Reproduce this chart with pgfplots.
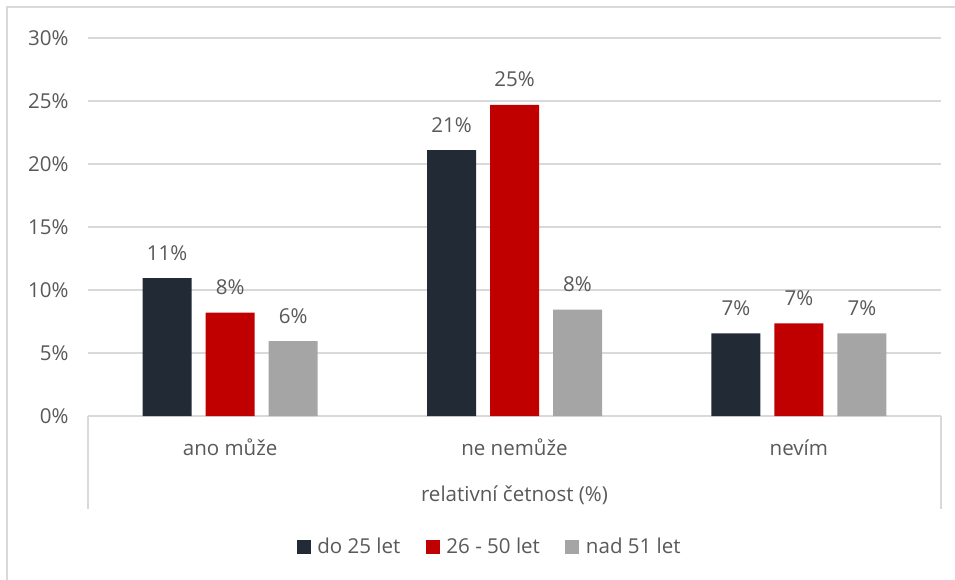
\documentclass[border=0pt]{standalone}
\usepackage{pgfplots}
\pgfplotsset{compat=1.18}
\usepackage{fontspec}
\setmainfont{Open Sans}
\definecolor{txt}{HTML}{595959}
\definecolor{gridc}{HTML}{D9D9D9}
\definecolor{sA}{HTML}{222A35}
\definecolor{sB}{HTML}{C00000}
\definecolor{sC}{HTML}{A5A5A5}
\newcommand{\lbl}{\fontsize{15.4}{18}\selectfont\color{txt}}
\begin{document}
\begin{tikzpicture}[x=0.75pt,y=0.75pt]
\path[use as bounding box] (0,0) rectangle (955,579);
\draw[gridc, line width=1.5pt] (7,-5) -- (7,572) -- (962,572);
\draw[gridc, line width=1.5pt] (88,163) -- (88,70);
\draw[gridc, line width=1.5pt] (941,163) -- (941,70);
\begin{axis}[
  at={(66pt,122.25pt)}, anchor=south west,
  scale only axis, width=639.75pt, height=283.5pt,
  ymin=0, ymax=30, ytick={0,5,...,30},
  xmin=-0.5, xmax=2.5, xtick={0,1,2},
  xticklabels={ano může, ne nemůže, nevím},
  /pgf/number format/assume math mode=true,
  yticklabel={\pgfmathprintnumber{\tick}\%},
  ymajorgrids, grid style={gridc, line width=1.5pt},
  axis line style={draw=none},
  major tick length=0pt,
  yticklabel style={font=\lbl, anchor=east, xshift=-11pt},
  xticklabel style={font=\lbl, anchor=base, yshift=-29.25pt},
  xlabel={relativní četnost (\%)},
  xlabel style={font=\lbl, at={(axis description cs:0.5,0)}, anchor=base, yshift=-63.75pt},
  ybar=10.5pt, bar width=36.75pt,
  nodes near coords={\pgfmathprintnumber[fixed,precision=0]{\pgfplotspointmeta}\%},
  every node near coord/.append style={font=\lbl, anchor=base, yshift=13.5pt, inner sep=0pt},
  clip=false,
  legend columns=3,
  legend style={at={(axis description cs:0.4713,-0.3466)}, anchor=center, draw=none, fill=none, font=\lbl,
    /tikz/every even column/.append style={column sep=17pt},
    /tikz/every odd column/.append style={column sep=3pt}},
  legend image code/.code={\fill[#1] (0pt,-5.25pt) rectangle (10.5pt,5.25pt);},
]
\addplot[fill=sA, draw=none] coordinates {(0,10.95) (1,21.1) (2,6.55)};
\addplot[fill=sB, draw=none] coordinates {(0,8.2) (1,24.7) (2,7.35)};
\addplot[fill=sC, draw=none] coordinates {(0,5.95) (1,8.45) (2,6.55)};
\legend{do 25 let, 26 - 50 let, nad 51 let}
\end{axis}
\end{tikzpicture}
\end{document}
